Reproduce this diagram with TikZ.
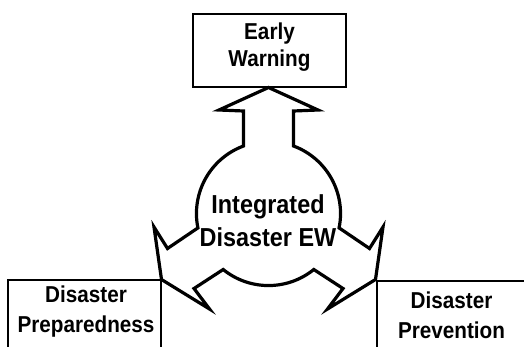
\documentclass[tikz,border=0pt]{standalone}
\usepackage{fontspec}
\setmainfont{Liberation Sans}[FakeStretch=0.9]
\begin{document}
\begin{tikzpicture}[x=1pt,y=1pt,
  box/.style={draw=black, line width=1.8pt, rectangle, minimum width=152.7pt, minimum height=73.3pt, inner sep=0pt},
  lbl/.style={align=center, font=\bfseries\fontsize{23}{27}\selectfont, inner sep=0pt},
  hub/.style={draw=black, line width=3.2pt, fill=white, line join=miter}]
\useasboundingbox (0,0) rectangle (524,346);
\clip (0,0) rectangle (524,346);
% boxes
\node[box] (ewbox) at (269.6,295.35) {};
\node[box, anchor=north east] (prepbox) at (161.8,67) {};
\node[box, anchor=north west] (prevbox) at (375.8,66) {};
% hub shape: circle with three arrows
\coordinate (c) at (268.5,132.5);
\draw[hub] (243.5,200) -- (243.5,235) -- (219,236) -- (268.5,258.5) coordinate (tipT)
  -- (318,236) -- (293.5,235) -- (293.5,200)
  arc[start angle=69.7, end angle=-11.5, radius=72]
  -- (369.5,97.5) -- (383,119) -- (375.5,66.5) coordinate (tipR)
  -- (327.5,37) -- (343,57.5) -- (313.8,76.5)
  arc[start angle=-51, end angle=-129, radius=72]
  -- (194,57.5) -- (209.5,37) -- (161.5,66.5) coordinate (tipL)
  -- (154,119) -- (167.5,97.5) -- (197.9,118.1)
  arc[start angle=191.5, end angle=110.3, radius=72] -- cycle;
% labels
\node[lbl] (ewtext) at (269.5,298.4) {Early\\Warning};
\node[lbl, font=\bfseries\fontsize{23}{30}\selectfont] (preptext) at (86,34) {Disaster\\Preparedness};
\node[lbl, font=\bfseries\fontsize{23}{30}\selectfont] (prevtext) at (451.5,30.3) {Disaster\\Prevention};
\node[lbl, font=\bfseries\fontsize{26}{33}\selectfont] (hubtext) at (268,124.8) {Integrated\\Disaster EW};
\end{tikzpicture}
\end{document}
